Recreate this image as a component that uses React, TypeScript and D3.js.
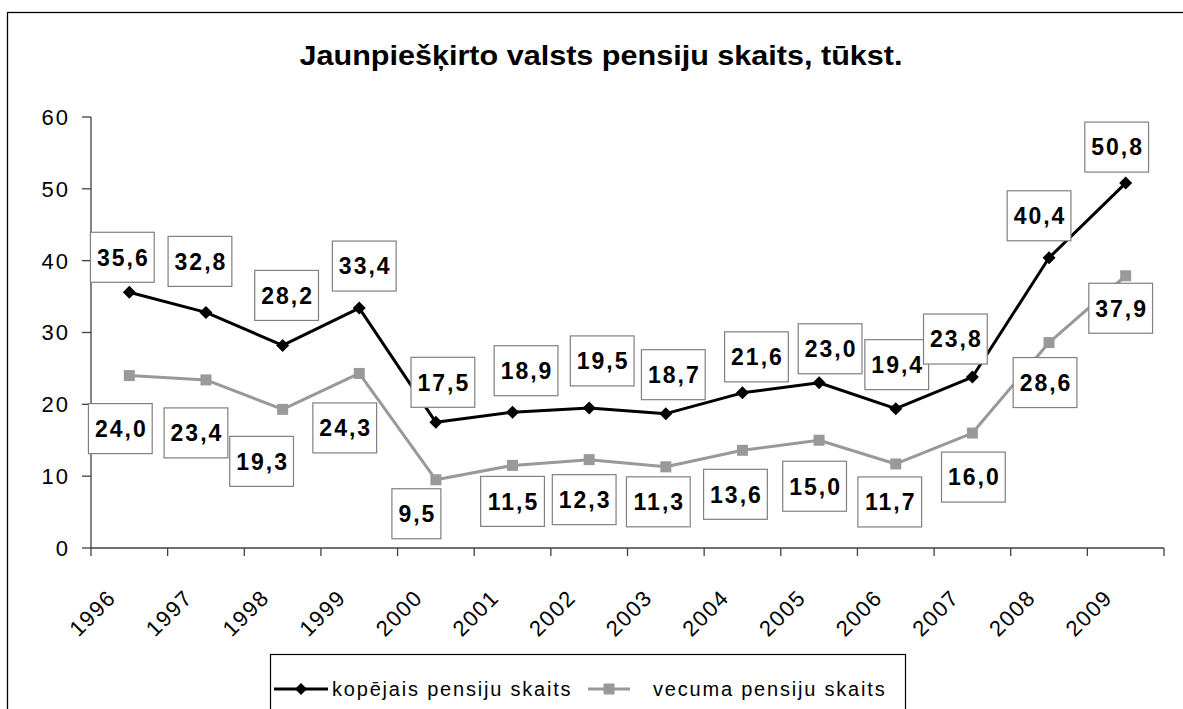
import React from "react";
import * as d3 from "d3";

const years = ["1996","1997","1998","1999","2000","2001","2002","2003","2004","2005","2006","2007","2008","2009"];
const totalPensions = [35.6, 32.8, 28.2, 33.4, 17.5, 18.9, 19.5, 18.7, 21.6, 23.0, 19.4, 23.8, 40.4, 50.8];
const agePensions = [24.0, 23.4, 19.3, 24.3, 9.5, 11.5, 12.3, 11.3, 13.6, 15.0, 11.7, 16.0, 28.6, 37.9];
const yTicks = [0, 10, 20, 30, 40, 50, 60];
const titleText = "Jaunpiešķirto valsts pensiju skaits, tūkst.";
const seriesNames = ["kopējais pensiju skaits", "vecuma pensiju skaits"];

// label nudges (layout only), relative to each point
const totalLabelDx = [-7, -6, 4, 5, 7, 13.5, 13, 7.5, 14, 11, 1, -17, -10, -9];
const totalLabelDy = [-35, -51, -50, -42, -40, -41.5, -47, -39, -36, -34, -44, -38, -42, -36];
const ageLabelDx = [-9, -10, -21, -14.5, -19.5, 0, -5, -7.5, -7, -4.5, -6, 1, -4, -5];
const ageLabelDy = [53, 53, 52, 54.5, 34, 36, 40, 35, 44, 46, 38, 44, 40, 32.5];

const locale = d3.formatLocale({ decimal: ",", thousands: " ", grouping: [3], currency: ["", ""] });
const fmt = locale.format(".1f");

const FONT = "'Liberation Sans', Arial, sans-serif";
const LBL_FS = 23;
const LBL_LS = 2;

function textWidth(s: string) {
  let w = 0;
  for (const c of s) w += (c === "," ? 0.278 : 0.556) * LBL_FS + LBL_LS;
  return w;
}

export default function App() {
  const W = 1183, H = 709;
  const left = 91, right = 1164, top = 117, bottom = 548;
  const x = d3.scaleBand<string>().domain(years).range([left, right]).padding(0);
  const y = d3.scaleLinear().domain([0, 60]).range([bottom, top]);
  const cx = (yr: string) => (x(yr) as number) + x.bandwidth() / 2;

  const line = d3.line<number>().x((_, i) => cx(years[i])).y((d) => y(d));
  const boundaries = d3.range(years.length + 1).map((i) => left + i * x.bandwidth());
  const diamond = (px: number, py: number, r: number) => `M${px},${py - r}L${px + r},${py}L${px},${py + r}L${px - r},${py}Z`;

  const labels = (vals: number[], dxs: number[], dys: number[], key: string) =>
    vals.map((v, i) => {
      const s = fmt(v);
      const w = textWidth(s) + 11;
      const h = 50;
      const lx = cx(years[i]) + dxs[i];
      const ly = y(v) + dys[i];
      return (
        <g key={key + i}>
          <rect x={lx - w / 2} y={ly - h / 2} width={w} height={h} fill="#fff" stroke="#808080" strokeWidth={1.2} />
          <text x={lx + LBL_LS / 2} y={ly} dy="0.36em" textAnchor="middle" fontFamily={FONT} fontWeight="bold" fontSize={LBL_FS} letterSpacing={LBL_LS} fill="#000">{s}</text>
        </g>
      );
    });

  return (
    <svg width={W} height={H} style={{ position: "absolute", left: 0, top: 0, background: "#fff" }}>
      <rect x={7.5} y={12.5} width={1200} height={720} fill="#fff" stroke="#000" strokeWidth={1.3} />
      <text x={601} y={65} textAnchor="middle" fontFamily={FONT} fontWeight="bold" fontSize={28} textLength={603} lengthAdjust="spacingAndGlyphs" fill="#000">{titleText}</text>

      {/* y axis */}
      <line x1={left} x2={left} y1={top} y2={bottom} stroke="#404040" strokeWidth={1.3} />
      {yTicks.map((t) => (
        <g key={"yt" + t}>
          <line x1={left - 9} x2={left} y1={y(t)} y2={y(t)} stroke="#404040" strokeWidth={1.3} />
          <text x={70} y={y(t)} dy="0.36em" textAnchor="end" fontFamily={FONT} fontSize={22} letterSpacing={2} fill="#000">{t}</text>
        </g>
      ))}
      {/* x axis */}
      <line x1={left} x2={right} y1={bottom} y2={bottom} stroke="#404040" strokeWidth={1.3} />
      {boundaries.map((b, i) => (
        <line key={"xt" + i} x1={b} x2={b} y1={bottom} y2={bottom + 8} stroke="#404040" strokeWidth={1.3} />
      ))}
      {years.map((yr) => (
        <text key={"xl" + yr} transform={`translate(${cx(yr) - 12},${599}) rotate(-45)`} textAnchor="end" fontFamily={FONT} fontSize={22} letterSpacing={1.5} fill="#000">{yr}</text>
      ))}

      {/* series */}
      <path d={line(agePensions) as string} fill="none" stroke="#999999" strokeWidth={3} strokeLinejoin="round" />
      {agePensions.map((v, i) => (
        <rect key={"sq" + i} x={cx(years[i]) - 5.5} y={y(v) - 5.5} width={11} height={11} fill="#999999" />
      ))}
      <path d={line(totalPensions) as string} fill="none" stroke="#000" strokeWidth={3} strokeLinejoin="round" />
      {totalPensions.map((v, i) => (
        <path key={"dm" + i} d={diamond(cx(years[i]), y(v), 6.5)} fill="#000" />
      ))}

      {labels(totalPensions, totalLabelDx, totalLabelDy, "tl")}
      {labels(agePensions, ageLabelDx, ageLabelDy, "al")}

      {/* legend */}
      <rect x={270.5} y={654.5} width={635} height={70} fill="#fff" stroke="#000" strokeWidth={1.2} />
      <line x1={274} x2={328} y1={689} y2={689} stroke="#000" strokeWidth={3} />
      <path d={diamond(301, 689, 6)} fill="#000" />
      <text x={332} y={689} dy="0.36em" fontFamily={FONT} fontSize={20} letterSpacing={1.8} fill="#000">{seriesNames[0]}</text>
      <line x1={588} x2={630} y1={689} y2={689} stroke="#999999" strokeWidth={3} />
      <rect x={603.5} y={683.5} width={11} height={11} fill="#999999" />
      <text x={653} y={689} dy="0.36em" fontFamily={FONT} fontSize={20} letterSpacing={1.8} fill="#000">{seriesNames[1]}</text>
    </svg>
  );
}
